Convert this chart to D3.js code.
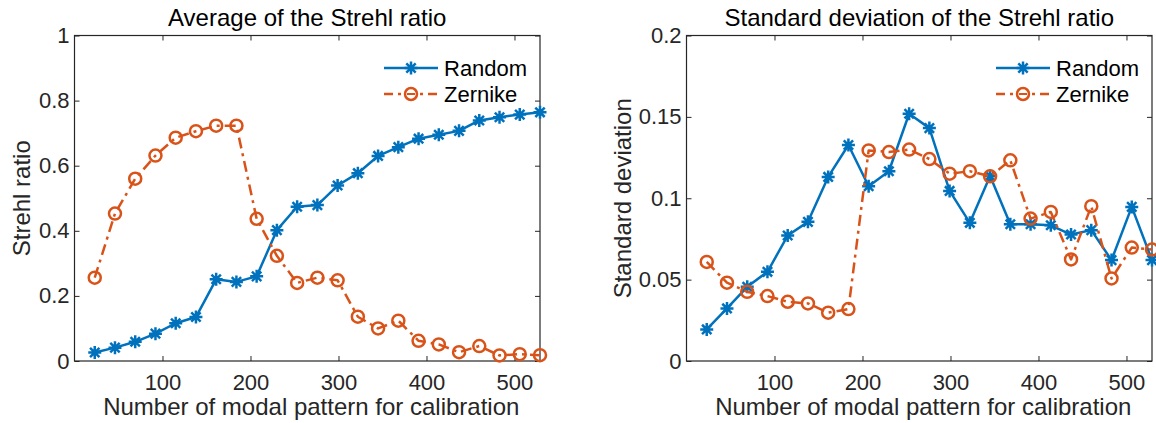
<!DOCTYPE html>
<html>
<head>
<meta charset="utf-8">
<script src="https://cdn.jsdelivr.net/npm/d3@7"></script>
<style>
  html, body { margin: 0; padding: 0; background: #fff; }
  svg { display: block; font-family: "Liberation Sans", Arial, Helvetica, sans-serif; }
</style>
</head>
<body>
<svg id="chart" width="1156" height="423"></svg>
<script>
// Number of modal patterns used for calibration
const patterns = [23, 46, 69, 92, 115, 138, 161, 184, 207, 230, 253, 276, 299,
                  322, 345, 368, 391, 414, 437, 460, 483, 506, 529];

// Average Strehl ratio
const meanRandom = [0.026, 0.041, 0.059, 0.084, 0.116, 0.135, 0.251, 0.243, 0.260,
                    0.402, 0.474, 0.479, 0.539, 0.577, 0.630, 0.657, 0.683, 0.695,
                    0.707, 0.739, 0.749, 0.757, 0.764];
const meanZernike = [0.256, 0.453, 0.560, 0.631, 0.686, 0.706, 0.723, 0.723, 0.437,
                     0.323, 0.240, 0.256, 0.248, 0.136, 0.100, 0.124, 0.062, 0.051,
                     0.027, 0.046, 0.017, 0.021, 0.018];

// Standard deviation of the Strehl ratio
const stdRandom = [0.0194, 0.0323, 0.0456, 0.0548, 0.0771, 0.0855, 0.1131, 0.1327,
                   0.1074, 0.1166, 0.1519, 0.1431, 0.1045, 0.0849, 0.1137, 0.0840,
                   0.0840, 0.0834, 0.0777, 0.0804, 0.0620, 0.0947, 0.0620];
const stdZernike = [0.0609, 0.0481, 0.0425, 0.0399, 0.0364, 0.0354, 0.0297, 0.0319,
                    0.1294, 0.1284, 0.1299, 0.1241, 0.1151, 0.1166, 0.1135, 0.1233,
                    0.0875, 0.0916, 0.0624, 0.0951, 0.0507, 0.0697, 0.0685];

const xTicks = [100, 200, 300, 400, 500];
const meanTicks = [0, 0.2, 0.4, 0.6, 0.8, 1];
const stdTicks = [0, 0.05, 0.1, 0.15, 0.2];
const seriesNames = ["Random", "Zernike"];

const BLUE = "#0072BD";
const ORANGE = "#D95319";
const AXIS = "#262626";
const LW = 2.5;
const DASHDOT = "11,5,3,5";

const svg = d3.select("#chart");

// asterisk marker: plus and cross overlaid
function asteriskPath(r) {
  const d = r * 0.72;
  return `M0,${-r}V${r}M${-r},0H${r}M${-d},${-d}L${d},${d}M${-d},${d}L${d},${-d}`;
}

function drawPanel(opts) {
  const { left, right, top, bottom, yMax, yTicks, random, zernike, title, yLabel } = opts;
  const g = svg.append("g");

  const x = d3.scaleLinear().domain([0, 529]).range([left, right]);
  const y = d3.scaleLinear().domain([0, yMax]).range([bottom, top]);

  // ticks drawn inward on all four sides
  const tickLen = 5;
  const bottomAxis = d3.axisBottom(x).tickValues(xTicks).tickSizeInner(-tickLen)
    .tickSizeOuter(0).tickPadding(13).tickFormat(d3.format("d"));
  const leftAxis = d3.axisLeft(y).tickValues(yTicks).tickSizeInner(-tickLen)
    .tickSizeOuter(0).tickPadding(5).tickFormat(v => String(+v.toFixed(4)));
  const topAxis = d3.axisTop(x).tickValues(xTicks).tickSizeInner(-tickLen)
    .tickSizeOuter(0).tickFormat("");
  const rightAxis = d3.axisRight(y).tickValues(yTicks).tickSizeInner(-tickLen)
    .tickSizeOuter(0).tickFormat("");

  const axes = [
    [bottomAxis, `translate(0,${bottom})`],
    [leftAxis, `translate(${left},0)`],
    [topAxis, `translate(0,${top})`],
    [rightAxis, `translate(${right},0)`]
  ];
  axes.forEach(([ax, tr]) => {
    const a = g.append("g").attr("transform", tr).call(ax);
    a.select(".domain").remove();
    a.selectAll(".tick line").attr("stroke", AXIS).attr("stroke-width", 1);
    a.selectAll(".tick text").attr("fill", AXIS).attr("font-size", 22)
      .attr("font-family", null);
  });

  // axes box
  g.append("rect")
    .attr("x", left).attr("y", top)
    .attr("width", right - left).attr("height", bottom - top)
    .attr("fill", "none").attr("stroke", AXIS).attr("stroke-width", 1.2);

  const line = d3.line().x((d, i) => x(patterns[i])).y(d => y(d));

  // Random series: solid with asterisks
  g.append("path").datum(random)
    .attr("d", line).attr("fill", "none")
    .attr("stroke", BLUE).attr("stroke-width", LW).attr("stroke-linejoin", "round");
  g.append("g").selectAll("path").data(random).join("path")
    .attr("transform", (d, i) => `translate(${x(patterns[i])},${y(d)})`)
    .attr("d", asteriskPath(6.5))
    .attr("fill", "none").attr("stroke", BLUE).attr("stroke-width", LW);

  // Zernike series: dash-dot with open circles
  g.append("path").datum(zernike)
    .attr("d", line).attr("fill", "none")
    .attr("stroke", ORANGE).attr("stroke-width", LW)
    .attr("stroke-dasharray", DASHDOT).attr("stroke-linejoin", "round");
  g.append("g").selectAll("circle").data(zernike).join("circle")
    .attr("cx", (d, i) => x(patterns[i])).attr("cy", d => y(d)).attr("r", 6)
    .attr("fill", "none").attr("stroke", ORANGE).attr("stroke-width", LW);

  // title and axis labels
  g.append("text")
    .attr("x", (left + right) / 2).attr("y", 26)
    .attr("text-anchor", "middle").attr("font-size", 24).attr("fill", "#000")
    .text(title);
  g.append("text")
    .attr("x", (left + right) / 2 + 4).attr("y", 415)
    .attr("text-anchor", "middle").attr("font-size", 24).attr("fill", AXIS)
    .text("Number of modal pattern for calibration");
  g.append("text")
    .attr("transform", `translate(${opts.yLabelX},${(top + bottom) / 2}) rotate(-90)`)
    .attr("text-anchor", "middle").attr("font-size", 24).attr("fill", AXIS)
    .text(yLabel);

  // legend (no box)
  const lx0 = right - 156, lx1 = right - 102, tx = right - 96;
  const rows = [68, 94];
  const lg = g.append("g");
  seriesNames.forEach((name, k) => {
    const ry = rows[k];
    const color = k === 0 ? BLUE : ORANGE;
    lg.append("line")
      .attr("x1", lx0).attr("x2", lx1).attr("y1", ry).attr("y2", ry)
      .attr("stroke", color).attr("stroke-width", LW)
      .attr("stroke-dasharray", k === 0 ? null : "9,5,3,5");
    const mx = (lx0 + lx1) / 2;
    if (k === 0) {
      lg.append("path").attr("transform", `translate(${mx},${ry})`)
        .attr("d", asteriskPath(6.5)).attr("fill", "none")
        .attr("stroke", color).attr("stroke-width", LW);
    } else {
      lg.append("circle").attr("cx", mx).attr("cy", ry).attr("r", 6)
        .attr("fill", "#fff").attr("stroke", color).attr("stroke-width", LW);
      lg.append("line").attr("x1", mx - 4).attr("x2", mx + 4)
        .attr("y1", ry).attr("y2", ry)
        .attr("stroke", color).attr("stroke-width", 2);
    }
    lg.append("text").attr("x", tx).attr("y", ry)
      .attr("dy", "0.35em").attr("font-size", 22).attr("fill", "#000")
      .text(name);
  });
}

drawPanel({
  left: 74.5, right: 540, top: 35.5, bottom: 361,
  yMax: 1, yTicks: meanTicks,
  random: meanRandom, zernike: meanZernike,
  title: "Average of the Strehl ratio", yLabel: "Strehl ratio", yLabelX: 30
});

drawPanel({
  left: 686.5, right: 1152, top: 35.5, bottom: 361,
  yMax: 0.2, yTicks: stdTicks,
  random: stdRandom, zernike: stdZernike,
  title: "Standard deviation of the Strehl ratio", yLabel: "Standard deviation", yLabelX: 631
});
</script>
</body>
</html>
